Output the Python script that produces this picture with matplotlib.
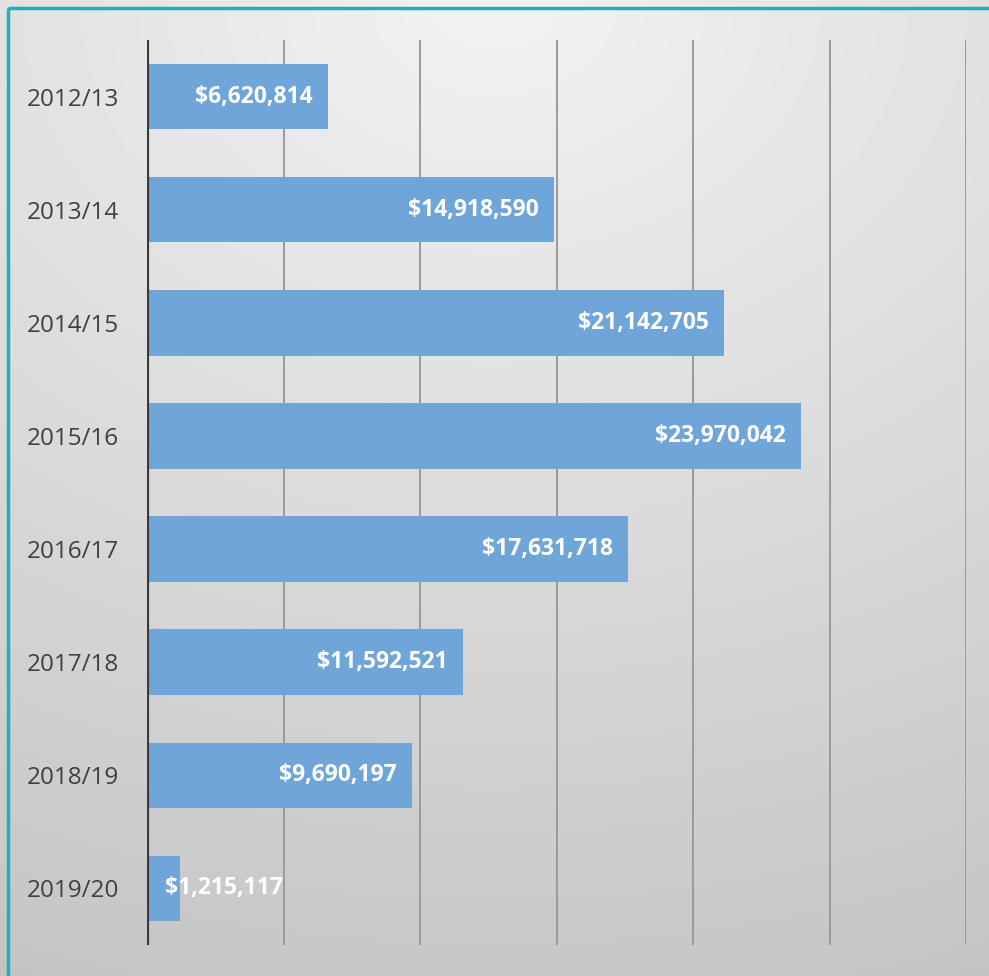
import numpy as np
import matplotlib.pyplot as plt

years = ["2012/13", "2013/14", "2014/15", "2015/16",
         "2016/17", "2017/18", "2018/19", "2019/20"]
amounts = [6620814, 14918590, 21142705, 23970042,
           17631718, 11592521, 9690197, 1215117]

W, H = 989, 976
fig = plt.figure(figsize=(W / 100, H / 100), dpi=100)

# gradient background (light at top, grey at bottom)
bg = fig.add_axes([0, 0, 1, 1], zorder=0)
yy, xx = np.mgrid[0:1:200j, 0:1:200j]
dist = np.sqrt((xx - 0.5) ** 2 * 0.6 + (yy) ** 2)
shade = 0.95 - 0.17 * np.clip(dist, 0, 1.1)
bg.imshow(shade, cmap="gray", vmin=0, vmax=1, extent=[0, 1, 0, 1],
          origin="upper", aspect="auto", interpolation="bicubic")
bg.set_xlim(0, 1)
bg.set_ylim(0, 1)
bg.axis("off")

# teal frame, cut at right and bottom like the original crop
teal = "#1fb0bc"
bg.plot([8 / W, 8 / W], [0, 1 - 8 / H], color=teal, lw=2.5,
        solid_capstyle="butt")
bg.plot([8 / W, 1], [1 - 8 / H, 1 - 8 / H], color=teal, lw=2.5,
        solid_capstyle="butt")

left, right, top, bottom = 147, 966, 40, 945
ax = fig.add_axes([left / W, 1 - bottom / H, (right - left) / W,
                   (bottom - top) / H], zorder=1)
ax.patch.set_alpha(0)

y = np.arange(len(years))
ax.barh(y, amounts, height=0.58, color="#6fa5d9", zorder=2)
ax.set_xlim(0, 30000000)
ax.set_ylim(len(years) - 0.5, -0.5)

for gx in range(5000000, 30000001, 5000000):
    ax.axvline(gx, color="#9a9a9a", lw=1.4, zorder=1)
ax.axvline(0, color="#3a3a3a", lw=3, zorder=3)

for s in ax.spines.values():
    s.set_visible(False)
ax.set_xticks([])
ax.set_yticks(y)
ax.set_yticklabels(years, fontsize=17.5, color="#404040",
                   family="Open Sans")
ax.tick_params(axis="y", length=0, pad=20)

for yi, v in zip(y, amounts):
    label = f"${v:,.0f}"
    if v < 3000000:
        ax.annotate(label, (0, yi), xytext=(13, 0),
                    textcoords="offset points", ha="left", va="center",
                    color="white", fontsize=16.5, fontweight="bold",
                    family="Open Sans", zorder=4)
    else:
        ax.annotate(label, (v, yi), xytext=(-11, 0),
                    textcoords="offset points", ha="right", va="center",
                    color="white", fontsize=16.5, fontweight="bold",
                    family="Open Sans", zorder=4)

fig.savefig("out.png", dpi=100)
